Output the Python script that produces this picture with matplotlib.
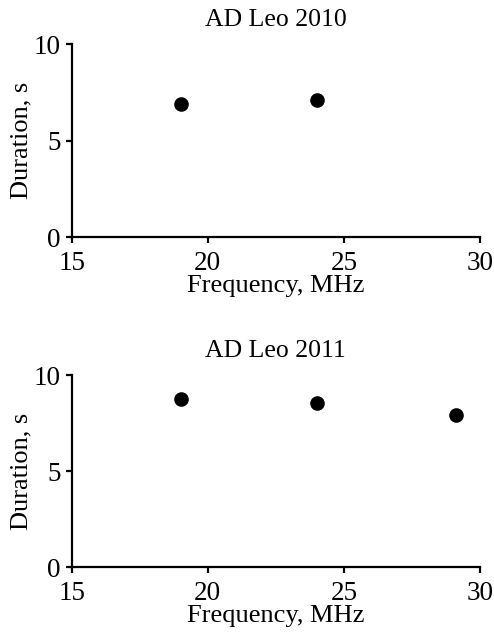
import matplotlib
matplotlib.use("Agg")
import matplotlib.pyplot as plt

freq_2010 = [19, 24]
dur_2010 = [6.9, 7.13]
freq_2011 = [19, 24, 29.1]
dur_2011 = [8.77, 8.54, 7.95]
titles = ["AD Leo 2010", "AD Leo 2011"]
xticks = [15, 20, 25, 30]
yticks = [0, 5, 10]

plt.rcParams['font.family'] = ['Liberation Serif', 'DejaVu Serif']
W, H = 494, 633
fig = plt.figure(figsize=(W/100, H/100), dpi=100)

left = 71.7 / W
width = (480 - 71.7) / W
boxes = [(44.3, 237.3), (375.3, 567.3)]
data = [(freq_2010, dur_2010), (freq_2011, dur_2011)]

for (top, bot), (fx, dy), title in zip(boxes, data, titles):
    ax = fig.add_axes([left, 1 - bot / H, width, (bot - top) / H])
    ax.scatter(fx, dy, s=90, color='black', zorder=3, clip_on=False)
    ax.set_xlim(15, 30)
    ax.set_ylim(0, 10)
    ax.set_xticks(xticks)
    ax.set_yticks(yticks)
    for s in ['top', 'right']:
        ax.spines[s].set_visible(False)
    for s in ['left', 'bottom']:
        ax.spines[s].set_linewidth(1.6)
    ax.tick_params(direction='out', length=4, width=1.6, labelsize=19.5)
    ax.tick_params(axis='x', pad=6)
    ax.tick_params(axis='y', pad=4)
    ax.set_title(title, fontsize=18.5, pad=13.5)
    ax.set_xlabel("Frequency, MHz", fontsize=19, labelpad=-1)
    ax.set_ylabel("Duration, s", fontsize=19, labelpad=1)

fig.savefig("out.png", dpi=100)
